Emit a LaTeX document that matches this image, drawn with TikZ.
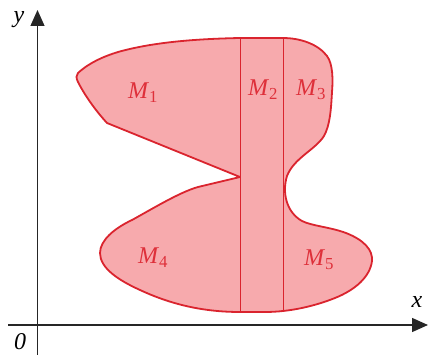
\documentclass[tikz,border=0pt]{standalone}
\usepackage{fontspec}
\setmainfont{Liberation Serif}
\usetikzlibrary{arrows.meta}
\definecolor{regfill}{RGB}{247,170,173}
\definecolor{regline}{RGB}{218,36,46}
\definecolor{labred}{RGB}{222,48,58}
\begin{document}
\begin{tikzpicture}[x=1pt,y=-1pt,
  axis/.style={line width=1.4pt,draw=black!85,-{Triangle[width=14pt,length=16pt]}},
  lab/.style={text=labred,font=\fontsize{24}{26}\selectfont,inner sep=0pt},
  axlab/.style={font=\itshape\fontsize{24}{26}\selectfont,inner sep=0pt},
  divider/.style={draw=regline,line width=0.9pt}]
\useasboundingbox (0,0) rectangle (428,355);
% region
\path[fill=regfill,draw=regline,line width=1.8pt,line join=round]
 (78,73) .. controls (90,62) and (105,56) .. (118,52)
 .. controls (150,43) and (190,39) .. (240,38) -- (283,38)
 .. controls (300,38) and (318,44) .. (327,56)
 .. controls (333,64) and (333,80) .. (332,92)
 .. controls (331,110) and (330,125) .. (324,136)
 .. controls (315,150) and (294,158) .. (287,176)
 .. controls (282,192) and (286,212) .. (302,221)
 .. controls (312,226) and (330,227) .. (346,233)
 .. controls (364,240) and (373,250) .. (372,261)
 .. controls (370,277) and (355,290) .. (335,298)
 .. controls (315,306) and (290,312) .. (265,312) -- (240,312)
 .. controls (200,312) and (168,303) .. (140,290)
 .. controls (118,280) and (100,268) .. (100,253)
 .. controls (100,240) and (115,228) .. (132,220)
 .. controls (152,209) and (180,192) .. (198,187)
 -- (240,177) -- (107,123)
 .. controls (95,110) and (84,94) .. (78,82)
 .. controls (76,78) and (76,75) .. (78,73) -- cycle;
\coordinate (a1) at (240,38); \coordinate (a2) at (240,312);
\coordinate (b1) at (283,38); \coordinate (b2) at (283,310);
\draw[divider] (a1) -- (a2);
\draw[divider] (b1) -- (b2);
% labels
\node[lab] (m1) at (143,93) {\textit{M}\textsubscript{1}};
\node[lab] (m2) at (263,90) {\textit{M}\textsubscript{2}};
\node[lab] (m3) at (311,90) {\textit{M}\textsubscript{3}};
\node[lab] (m4) at (153,258) {\textit{M}\textsubscript{4}};
\node[lab] (m5) at (319,260) {\textit{M}\textsubscript{5}};
% axes
\coordinate (ys) at (37.5,355); \coordinate (ye) at (37.5,10);
\coordinate (xs) at (8,325); \coordinate (xe) at (428,325);
\draw[axis,line width=1.1pt] (ys) -- (ye);
\draw[axis] (xs) -- (xe);
\node[axlab] (ylab) at (19,20) {y};
\node[axlab] (xlab) at (417,302) {x};
\node[axlab] (olab) at (20,342) {0};
\end{tikzpicture}
\end{document}
